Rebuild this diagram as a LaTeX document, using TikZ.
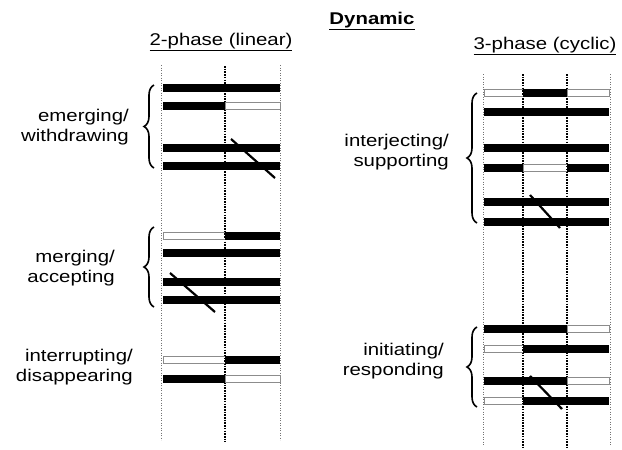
\documentclass[tikz,border=0pt]{standalone}
\usepackage{fontspec}
\setmainfont{Liberation Sans}[FakeStretch=1.2]
\usetikzlibrary{decorations.pathreplacing}
\newcommand{\solidseg}[3]{\fill[black] (#1,#3-3.8) rectangle (#2,#3+3.8);}
\newcommand{\hollowseg}[3]{\draw[black!45,line width=0.7pt] (#1,#3-3.2) rectangle (#2,#3+3.2);}
\tikzset{
  guide/.style={black!55,line width=0.5pt,dotted},
  phase/.style={black,line width=2.6pt,dash pattern=on 1.6pt off 1.1pt},
  slash/.style={black,line width=2.2pt},
  grp/.style={black,line width=1.6pt,decorate,decoration={brace,amplitude=10pt,aspect=0.5}},
  lbl/.style={align=right,anchor=east,font=\fontsize{17}{20}\selectfont,inner sep=0pt},
  head/.style={font=\fontsize{17}{20}\selectfont,inner sep=0pt}
}
\begin{document}
\begin{tikzpicture}[x=1pt,y=-1pt]
\useasboundingbox (0,0) rectangle (622,450);
% headings
\node[head,font=\fontsize{17}{20}\selectfont\bfseries] (dyn) at (372,21) {\underline{Dynamic}};
\node[head] (lin) at (221,42) {\underline{2-phase (linear)}};
\node[head] (cyc) at (545,46) {\underline{3-phase (cyclic)}};
% left panel guides
\draw[guide] (161,65) -- (161,440);
\draw[guide] (280,65) -- (280,440);
\draw[phase] (225,66) -- (225,442);
% right panel guides
\draw[guide] (483,74) -- (483,446);
\draw[guide] (610,74) -- (610,446);
\draw[phase] (523,74) -- (523,448);
\draw[phase] (567,74) -- (567,448);
% emerging / withdrawing
\solidseg{163}{280}{88}
\solidseg{163}{225}{106}
\hollowseg{225}{280}{106}
\solidseg{163}{280}{148}
\solidseg{163}{280}{166}
\coordinate (s1a) at (231,139);
\coordinate (s1b) at (275,178);
\draw[slash] (s1a) -- (s1b);
% merging / accepting
\hollowseg{163}{225}{236}
\solidseg{225}{280}{236}
\solidseg{163}{280}{253}
\solidseg{163}{280}{282}
\solidseg{163}{280}{300}
\coordinate (s2a) at (170,273);
\coordinate (s2b) at (215,312);
\draw[slash] (s2a) -- (s2b);
% interrupting / disappearing
\hollowseg{163}{225}{360}
\solidseg{225}{280}{360}
\solidseg{163}{225}{379}
\hollowseg{225}{280}{379}
% interjecting / supporting
\hollowseg{484}{523}{93}
\solidseg{523}{567}{93}
\hollowseg{567}{609}{93}
\solidseg{484}{609}{112}
\solidseg{484}{609}{148}
\solidseg{484}{523}{168}
\hollowseg{523}{567}{168}
\solidseg{567}{609}{168}
\solidseg{484}{609}{202}
\solidseg{484}{609}{222}
\coordinate (s3a) at (530,195);
\coordinate (s3b) at (560,228);
\draw[slash] (s3a) -- (s3b);
% initiating / responding
\solidseg{484}{567}{329}
\hollowseg{567}{609}{329}
\hollowseg{484}{523}{349}
\solidseg{523}{609}{349}
\solidseg{484}{567}{381}
\hollowseg{567}{609}{381}
\hollowseg{484}{523}{401}
\solidseg{523}{609}{401}
\coordinate (s4a) at (530,376);
\coordinate (s4b) at (562,409);
\draw[slash] (s4a) -- (s4b);
% braces
\coordinate (b1t) at (154,85);  \coordinate (b1b) at (154,168);
\coordinate (b2t) at (154,227); \coordinate (b2b) at (154,307);
\coordinate (b3t) at (477,93);  \coordinate (b3b) at (477,223);
\coordinate (b4t) at (477,327); \coordinate (b4b) at (477,407);
\draw[grp] (b1b) -- (b1t);
\draw[grp] (b2b) -- (b2t);
\draw[grp] (b3b) -- (b3t);
\draw[grp] (b4b) -- (b4t);
% labels
\node[lbl] (l1) at (129,127) {emerging/\\withdrawing};
\node[lbl] (l2) at (115,268) {merging/\\accepting};
\node[lbl] (l3) at (133,367) {interrupting/\\disappearing};
\node[lbl] (l4) at (449,152) {interjecting/\\supporting};
\node[lbl] (l5) at (444,361) {initiating/\\responding};
\end{tikzpicture}
\end{document}
